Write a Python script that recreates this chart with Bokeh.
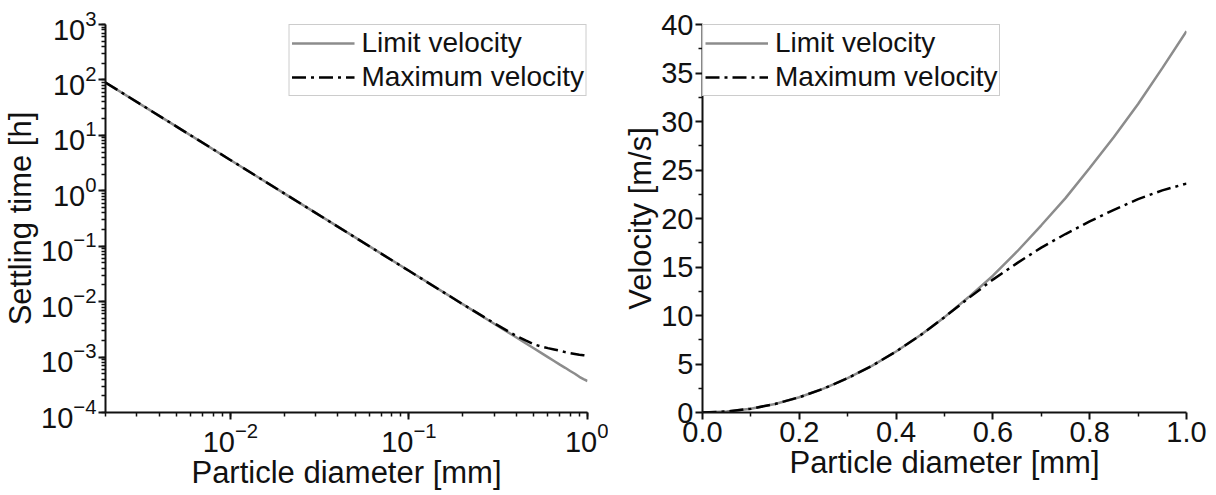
from bokeh.plotting import figure
from bokeh.layouts import row
from bokeh.models import Legend, LegendItem, FixedTicker, NumeralTickFormatter
from bokeh.embed import file_html
from bokeh.resources import INLINE

# ---- Left panel data (log-log): settling time vs particle diameter ----
diam_log = [0.002, 0.005, 0.01, 0.02, 0.05, 0.1, 0.2, 0.3, 0.4, 0.45, 0.5,
            0.55, 0.6, 0.65, 0.7, 0.75, 0.8, 0.85, 0.9, 0.95, 1.0]
time_limit = [90, 14.4, 3.6, 0.9, 0.144, 0.036, 0.009, 0.004, 0.00225, 0.00178,
              0.00144, 0.00119, 0.001, 0.00085, 0.00073, 0.00064, 0.00056,
              0.0005, 0.00044, 0.0004, 0.00037]
time_max = [90, 14.4, 3.6, 0.9, 0.144, 0.036, 0.009, 0.0041, 0.0024, 0.002,
            0.0017, 0.00155, 0.00145, 0.00137, 0.0013, 0.00123, 0.00118,
            0.00114, 0.0011, 0.00108, 0.00106]

# ---- Right panel data (linear): velocity vs particle diameter ----
diam_lin = [0.0, 0.05, 0.1, 0.15, 0.2, 0.25, 0.3, 0.35, 0.4, 0.45, 0.5,
            0.55, 0.6, 0.65, 0.7, 0.75, 0.8, 0.85, 0.9, 0.95, 1.0]
vel_limit = [0, 0.1, 0.39, 0.88, 1.57, 2.46, 3.54, 4.81, 6.29, 7.96, 9.83,
             11.9, 14.1, 16.6, 19.3, 22.1, 25.2, 28.4, 31.8, 35.5, 39.3]
vel_max = [0, 0.1, 0.39, 0.88, 1.57, 2.46, 3.54, 4.81, 6.29, 7.96, 9.83,
           11.8, 13.7, 15.4, 17.0, 18.4, 19.7, 20.9, 22.0, 22.9, 23.6]

series_names = ["Limit velocity", "Maximum velocity"]
x_title = "Particle diameter [mm]"
y_title_left = "Settling time [h]"
y_title_right = "Velocity [m/s]"
x_ticks_right = [0.0, 0.2, 0.4, 0.6, 0.8, 1.0]
y_ticks_right = [0, 5, 10, 15, 20, 25, 30, 35, 40]

FONT = "Liberation Sans"
GREY = "#8c8c8c"
DASH = "14 5 3 5"
TICK_FS = "29px"
TITLE_FS = "31px"
LEG_FS = "28px"


def style(p):
    p.outline_line_color = None
    p.xgrid.visible = False
    p.ygrid.visible = False
    p.background_fill_color = "white"
    p.border_fill_color = "white"
    for ax in (p.xaxis[0], p.yaxis[0]):
        ax.axis_line_width = 2
        ax.axis_line_color = "#111111"
        ax.major_tick_line_color = "#111111"
        ax.minor_tick_line_color = "#111111"
        ax.major_tick_line_width = 2
        ax.minor_tick_line_width = 1.5
        ax.major_tick_out = 7
        ax.major_tick_in = 0
        ax.minor_tick_out = 4
        ax.minor_tick_in = 0
        ax.major_label_text_font = FONT
        ax.major_label_text_font_size = TICK_FS
        ax.major_label_text_color = "#111111"
        ax.major_label_standoff = 2
        ax.axis_label_text_font = FONT
        ax.axis_label_text_font_size = TITLE_FS
        ax.axis_label_text_font_style = "normal"
        ax.axis_label_text_color = "#111111"
        ax.axis_label_standoff = 0


def make_legend(p, r1, r2, loc):
    leg = Legend(items=[LegendItem(label=series_names[0], renderers=[r1]),
                        LegendItem(label=series_names[1], renderers=[r2])],
                 location=loc)
    leg.margin = 0
    leg.padding = 2
    leg.spacing = 2
    leg.border_line_color = "#9a9a9a"
    leg.border_line_width = 1.5
    leg.label_text_font = FONT
    leg.label_text_font_size = LEG_FS
    leg.label_text_color = "#111111"
    leg.glyph_width = 63
    leg.glyph_height = 32
    leg.label_standoff = 7
    leg.label_height = 32
    p.add_layout(leg)


# ---- Left figure ----
p1 = figure(width=608, height=495, x_axis_type="log", y_axis_type="log",
            x_range=(0.002, 1.0), y_range=(1e-4, 1e3),
            output_backend="svg", toolbar_location=None,
            min_border_left=105, min_border_right=21,
            min_border_top=24, min_border_bottom=83)
style(p1)
p1.xaxis[0].axis_label = x_title
p1.yaxis[0].axis_label = y_title_left
r1 = p1.line(diam_log, time_limit, line_color=GREY, line_width=2.5)
r2 = p1.line(diam_log, time_max, line_color="black", line_width=2.5, line_dash=DASH)
make_legend(p1, r1, r2, "top_right")

# ---- Right figure ----
p2 = figure(width=608, height=495, x_range=(0.0, 1.0), y_range=(0, 40),
            output_backend="svg", toolbar_location=None,
            min_border_left=94, min_border_right=30,
            min_border_top=23, min_border_bottom=83)
style(p2)
p2.xaxis[0].axis_label = x_title
p2.yaxis[0].axis_label = y_title_right
p2.xaxis[0].ticker = FixedTicker(ticks=x_ticks_right, minor_ticks=[0.1, 0.3, 0.5, 0.7, 0.9])
p2.yaxis[0].ticker = FixedTicker(ticks=y_ticks_right,
                                 minor_ticks=[2.5, 7.5, 12.5, 17.5, 22.5, 27.5, 32.5, 37.5])
p2.xaxis[0].formatter = NumeralTickFormatter(format="0.0")
r3 = p2.line(diam_lin, vel_limit, line_color=GREY, line_width=2.5)
r4 = p2.line(diam_lin, vel_max, line_color="black", line_width=2.5, line_dash=DASH)
make_legend(p2, r3, r4, "top_left")

layout = row(p1, p2)
open("out.html", "w").write(file_html(layout, INLINE))
